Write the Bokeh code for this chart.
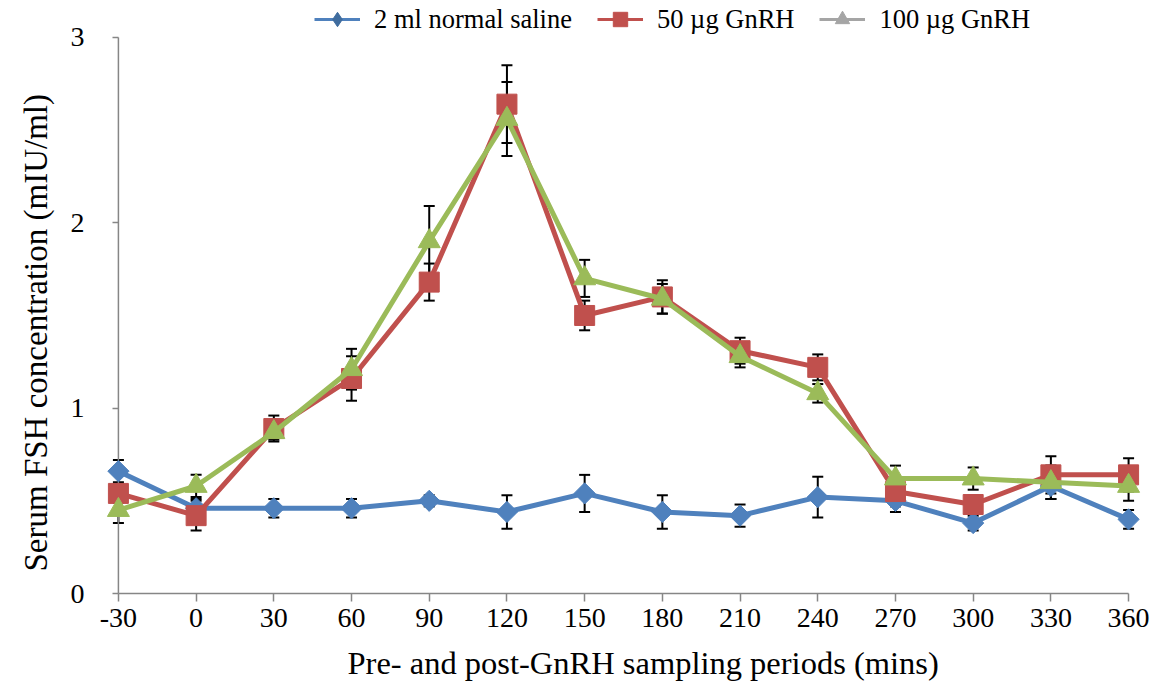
import math
from bokeh.plotting import figure
from bokeh.models import (Range1d, FixedTicker, Whisker, TeeHead, ColumnDataSource,
                          Legend, LegendItem, Title)
from bokeh.embed import file_html
from bokeh.resources import INLINE

periods = [-30, 0, 30, 60, 90, 120, 150, 180, 210, 240, 270, 300, 330, 360]
tick_labels = ["-30", "0", "30", "60", "90", "120", "150", "180", "210", "240", "270", "300", "330", "360"]
y_ticks = [0, 1, 2, 3]

saline = [0.66, 0.46, 0.46, 0.46, 0.50, 0.44, 0.54, 0.44, 0.42, 0.52, 0.50, 0.38, 0.58, 0.40]
saline_err = [0.06, 0.05, 0.05, 0.05, 0.03, 0.09, 0.10, 0.09, 0.06, 0.11, 0.06, 0.04, 0.07, 0.05]

gnrh50 = [0.54, 0.42, 0.89, 1.16, 1.68, 2.64, 1.50, 1.60, 1.31, 1.22, 0.55, 0.48, 0.64, 0.64]
gnrh50_err = [0.05, 0.08, 0.07, 0.12, 0.10, 0.21, 0.08, 0.09, 0.07, 0.07, 0.08, 0.05, 0.10, 0.09]

gnrh100 = [0.45, 0.58, 0.87, 1.21, 1.90, 2.56, 1.70, 1.59, 1.28, 1.08, 0.62, 0.62, 0.60, 0.58]
gnrh100_err = [0.07, 0.06, 0.04, 0.11, 0.19, 0.20, 0.10, 0.08, 0.06, 0.05, 0.07, 0.06, 0.09, 0.08]

names = ["2 ml normal saline", "50 \u00b5g GnRH", "100 \u00b5g GnRH"]
x_title = "Pre- and post-GnRH sampling periods (mins)"
y_title = "Serum  FSH concentration (mIU/ml)"

FONT = "Liberation Serif"
BLUE, RED, GREEN, GRAY = "#4F81BD", "#C0504D", "#9BBB59", "#A5A5A5"
AXIS = "#868686"
NAN = float("nan")

# frame: x from 106 to 1140 px (so -30 -> 118, 360 -> 1128); y frame 0..594 px with 3 at 37 px
p = figure(width=1160, height=694, output_backend="svg", toolbar_location=None,
           x_range=Range1d(-34.6, 364.6), y_range=Range1d(0, 3.1993),
           min_border_left=106, min_border_right=20, min_border_top=0, min_border_bottom=100)
p.outline_line_color = None
p.xgrid.visible = False
p.ygrid.visible = False
p.background_fill_color = "white"
p.border_fill_color = "white"

# axes
p.xaxis.ticker = FixedTicker(ticks=periods)
p.xaxis.major_label_overrides = {v: s for v, s in zip(periods, tick_labels)}
p.xaxis.bounds = (periods[0], periods[-1])
p.yaxis.ticker = FixedTicker(ticks=y_ticks)
for ax in (p.xaxis[0], p.yaxis[0]):
    ax.axis_line_color = AXIS
    ax.axis_line_width = 1.5
    ax.major_tick_line_color = AXIS
    ax.major_tick_line_width = 1.5
    ax.minor_tick_line_color = None
    ax.major_label_text_font = FONT
    ax.major_label_text_font_size = "28px"
    ax.major_label_text_color = "black"
p.xaxis.major_tick_in = 0
p.xaxis.major_tick_out = 8
p.xaxis.major_label_standoff = 7
# y axis sits at x=-30 (12 px inside the frame): ticks shifted inward, line drawn as a segment
p.yaxis.axis_line_color = None
p.yaxis.major_tick_in = 12
p.yaxis.major_tick_out = -6
p.yaxis.major_label_standoff = 22
p.segment(x0=[periods[0]], y0=[y_ticks[0]], x1=[periods[0]], y1=[y_ticks[-1]],
          line_color=AXIS, line_width=1.5)

# error bars
for ys, es in ((saline, saline_err), (gnrh50, gnrh50_err), (gnrh100, gnrh100_err)):
    src = ColumnDataSource(dict(x=periods,
                                upper=[y + e for y, e in zip(ys, es)],
                                lower=[y - e for y, e in zip(ys, es)]))
    w = Whisker(base="x", upper="upper", lower="lower", source=src,
                line_color="black", line_width=2,
                upper_head=TeeHead(size=11, line_width=2, line_color="black"),
                lower_head=TeeHead(size=11, line_width=2, line_color="black"))
    p.add_layout(w)

# series
p.line(periods, saline, line_color=BLUE, line_width=5)
p.scatter(periods, saline, marker="square", angle=math.pi / 4, size=15,
          fill_color=BLUE, line_color=BLUE)
p.line(periods, gnrh50, line_color=RED, line_width=5)
p.scatter(periods, gnrh50, marker="square", size=20, fill_color=RED, line_color=RED)
p.line(periods, gnrh100, line_color=GREEN, line_width=5)
p.scatter(periods, gnrh100, marker="triangle", size=22, fill_color=GREEN, line_color=GREEN)

# legend swatches (third entry rendered grey as in the original); NaN data draws nothing on the plot
bl = p.line([NAN], [NAN], line_color=BLUE, line_width=3)
bm = p.scatter([NAN], [NAN], marker="diamond", size=17,
               fill_color="#3F6C9E", line_color="#3F6C9E")
rl = p.line([NAN], [NAN], line_color=RED, line_width=3)
rm = p.scatter([NAN], [NAN], marker="square", size=13, fill_color=RED, line_color=RED)
gl = p.line([NAN], [NAN], line_color=GRAY, line_width=3)
gm = p.scatter([NAN], [NAN], marker="triangle", size=14, fill_color=GRAY, line_color=GRAY)

legend = Legend(items=[LegendItem(label=names[0], renderers=[bl, bm]),
                       LegendItem(label=names[1], renderers=[rl, rm]),
                       LegendItem(label=names[2], renderers=[gl, gm])],
                orientation="horizontal", location=(208, 556),
                padding=0, margin=0, spacing=25, label_standoff=14,
                glyph_width=46, glyph_height=36,
                label_text_font=FONT, label_text_font_size="26.5px", label_text_color="black",
                border_line_color=None, background_fill_alpha=0)
p.add_layout(legend)

# axis titles
p.add_layout(Title(text=y_title, align="left", offset=22, standoff=28,
                   text_font=FONT, text_font_size="33px", text_font_style="normal",
                   text_color="black"), "left")
p.add_layout(Title(text=x_title, align="left", offset=241, standoff=27,
                   text_font=FONT, text_font_size="32.5px", text_font_style="normal",
                   text_color="black"), "below")

open("out.html", "w").write(file_html(p, INLINE))
